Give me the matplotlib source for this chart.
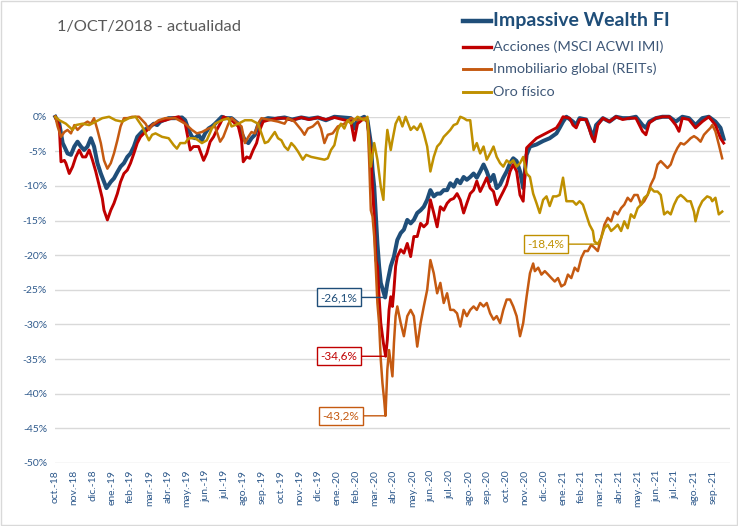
import numpy as np
import matplotlib.pyplot as plt
from matplotlib.lines import Line2D
from matplotlib.patches import Rectangle

plt.rcParams['font.family'] = ['Lato', 'DejaVu Sans']

# x = meses desde 1/oct/2018, y = caida desde maximos (%)
impassive = [
    (0, 0), (0.21, -1.0), (0.39, -3.8), (0.48, -4.3), (0.65, -5.3), (0.83, -5.5), (1.01, -4.3), (1.18, -3.6),
    (1.36, -4.3), (1.53, -4.8), (1.71, -4.3), (1.89, -3.1), (2.06, -4.3), (2.24, -6.7), (2.42, -8.2), (2.59, -9.4),
    (2.72, -10.3), (2.95, -9.4), (3.12, -8.9), (3.30, -8.0), (3.47, -7.2), (3.65, -6.7), (3.83, -5.8), (4.00, -5.3),
    (4.18, -4.3), (4.36, -2.9), (4.53, -2.4), (4.71, -1.9), (4.89, -1.7), (5.06, -1.4), (5.24, -1.0), (5.42, -1.2),
    (5.59, -0.7), (5.77, -0.5), (6.03, -0.2), (6.38, -0.2), (6.74, -0.1), (6.91, -0.5), (7.09, -1.9), (7.27, -2.9),
    (7.44, -3.1), (7.62, -2.6), (7.80, -3.4), (7.97, -2.4), (8.15, -1.7), (8.33, -1.4), (8.50, -1.0), (8.68, -0.5),
    (8.86, 0), (9.03, -0.2), (9.38, -0.2), (9.74, -1.0), (9.91, -2.4), (10.09, -3.4), (10.27, -3.8), (10.44, -3.1),
    (10.62, -2.6), (10.79, -1.2), (10.97, -0.5), (11.32, -0.2), (11.68, -0.3), (12.20, -0.1), (12.60, -0.4),
    (13.09, -0.1), (13.50, -0.3), (13.97, -0.1), (14.40, -0.5), (14.85, 0), (15.73, -0.2), (15.91, -1.7),
    (16.08, -0.5), (16.44, 0), (16.61, -0.5), (16.79, -3.8), (16.88, -7.7), (16.97, -10.1), (17.06, -14.4),
    (17.14, -18.3), (17.23, -21.6), (17.32, -24.0), (17.55, -26.1), (17.67, -24.0), (17.85, -21.6), (18.02, -20.2),
    (18.20, -17.8), (18.38, -16.8), (18.55, -16.3), (18.73, -14.9), (18.91, -15.4), (19.08, -14.9), (19.26, -13.9),
    (19.44, -13.5), (19.61, -13.0), (19.79, -12.0), (19.96, -10.6), (20.14, -11.5), (20.32, -11.1), (20.49, -11.1),
    (20.67, -10.6), (20.85, -10.6), (21.02, -9.6), (21.20, -10.1), (21.38, -9.1), (21.55, -9.6), (21.73, -8.7),
    (21.90, -9.1), (22.08, -8.7), (22.26, -8.2), (22.43, -8.8), (22.61, -7.9), (22.79, -6.9), (22.96, -7.9),
    (23.14, -9.3), (23.32, -8.4), (23.49, -10.3), (23.67, -9.8), (23.84, -8.8), (24.02, -7.9), (24.20, -6.7),
    (24.37, -6.0), (24.55, -6.4), (24.73, -7.9), (24.90, -10.3), (24.99, -7.9), (25.08, -5.5), (25.26, -4.3),
    (25.61, -4.0), (25.96, -3.5), (26.31, -3.1), (26.67, -2.4), (26.84, -1.6), (27.02, -0.7), (27.20, 0),
    (27.55, -0.7), (27.72, -1.2), (27.90, -0.2), (28.25, -0.4), (28.43, -1.6), (28.61, -3.1), (28.78, -1.2),
    (29.14, -0.2), (29.49, -0.7), (29.84, 0), (30.19, -0.2), (30.55, -0.2), (30.90, 0), (31.25, -1.2),
    (31.43, -1.6), (31.61, -0.7), (31.96, -0.2), (32.31, 0), (32.67, 0), (33.02, -0.7), (33.37, 0), (33.72, -0.2),
    (34.07, -1.2), (34.43, -0.2), (34.78, 0), (35.13, -0.7), (35.40, -1.6), (35.57, -3.2),
]

acciones = [
    (0, 0), (0.21, -1.4), (0.30, -6.5), (0.48, -6.3), (0.56, -6.7), (0.74, -8.2), (0.92, -7.2), (1.09, -5.8),
    (1.27, -4.8), (1.45, -5.8), (1.62, -5.8), (1.80, -4.8), (1.98, -6.3), (2.15, -7.9), (2.33, -9.9), (2.50, -11.8),
    (2.59, -13.5), (2.77, -14.9), (2.95, -13.5), (3.12, -12.5), (3.30, -11.1), (3.47, -9.4), (3.65, -8.2),
    (3.83, -7.7), (4.00, -6.7), (4.18, -5.3), (4.36, -3.8), (4.53, -2.9), (4.71, -2.4), (4.89, -1.9), (5.15, -1.2),
    (5.50, -0.7), (5.86, -0.5), (6.21, -0.2), (6.56, 0), (6.91, -1.0), (7.18, -4.8), (7.35, -4.3), (7.62, -4.3),
    (7.89, -6.3), (8.06, -5.3), (8.24, -3.6), (8.42, -2.9), (8.59, -1.9), (8.77, -1.0), (8.95, 0), (9.38, -0.5),
    (9.74, -1.4), (9.91, -3.4), (10.00, -6.5), (10.18, -5.8), (10.35, -6.0), (10.53, -4.8), (10.71, -3.8),
    (10.88, -1.9), (11.06, -0.7), (11.32, -0.5), (11.85, -0.2), (12.20, -0.2), (12.60, -0.5), (13.09, -0.1),
    (13.50, -0.4), (13.97, -0.1), (14.40, -0.4), (14.85, -0.1), (15.73, -0.7), (15.91, -3.4), (16.08, -1.0),
    (16.44, -0.2), (16.61, -0.7), (16.79, -5.5), (16.88, -10.3), (16.97, -14.4), (17.06, -20.7), (17.14, -21.6),
    (17.23, -26.0), (17.32, -29.8), (17.46, -32.7), (17.58, -34.6), (17.67, -32.2), (17.76, -27.9), (17.85, -26.0),
    (17.94, -27.4), (18.02, -25.0), (18.11, -21.6), (18.20, -20.2), (18.38, -19.2), (18.55, -19.7), (18.73, -18.3),
    (18.91, -20.2), (19.08, -17.3), (19.26, -17.3), (19.44, -15.4), (19.61, -15.9), (19.79, -15.4), (19.96, -12.0),
    (20.14, -13.9), (20.32, -15.9), (20.49, -13.0), (20.67, -13.5), (20.85, -12.5), (21.02, -12.0), (21.20, -11.8),
    (21.38, -11.1), (21.55, -12.0), (21.73, -13.9), (21.90, -12.5), (22.08, -11.1), (22.26, -10.6), (22.43, -9.3),
    (22.61, -10.8), (22.79, -9.8), (22.96, -8.8), (23.14, -10.3), (23.32, -10.8), (23.49, -12.7), (23.67, -11.7),
    (23.84, -10.8), (24.02, -9.8), (24.20, -7.9), (24.37, -6.9), (24.55, -7.9), (24.73, -11.3), (24.90, -12.2),
    (25.08, -4.5), (25.26, -4.0), (25.61, -3.1), (25.96, -2.6), (26.31, -2.1), (26.67, -1.6), (26.84, -0.9),
    (27.02, 0), (27.37, -0.2), (27.55, -1.2), (27.72, -1.6), (27.90, -0.4), (28.25, -0.4), (28.52, -2.6),
    (28.69, -3.6), (28.87, -1.2), (29.14, -0.2), (29.49, -0.7), (29.84, 0), (30.19, -0.4), (30.55, -0.2),
    (30.90, -0.2), (31.25, -2.1), (31.43, -2.6), (31.61, -0.9), (31.96, -0.2), (32.31, 0), (32.67, 0),
    (33.02, -1.2), (33.19, -2.1), (33.37, -0.2), (33.72, -0.4), (34.07, -1.6), (34.43, -0.7), (34.78, 0),
    (35.13, -1.2), (35.40, -3.1), (35.57, -3.8),
]

reits = [
    (0, 0), (0.12, -1.4), (0.30, -2.9), (0.48, -2.2), (0.65, -1.9), (0.83, -2.4), (1.01, -1.2), (1.18, -1.9),
    (1.36, -1.4), (1.53, -1.0), (1.71, -0.7), (1.89, -1.0), (2.06, -0.2), (2.24, -1.9), (2.42, -3.8), (2.59, -6.3),
    (2.77, -7.5), (2.95, -6.7), (3.12, -5.3), (3.30, -3.4), (3.47, -1.4), (3.65, -0.2), (3.83, -0.2), (4.09, 0),
    (4.45, 0), (4.80, -1.0), (4.98, -1.9), (5.15, -1.2), (5.50, -0.5), (5.86, -0.2), (6.38, -0.2), (6.91, -1.0),
    (7.27, -1.9), (7.53, -2.4), (7.80, -2.2), (8.15, -1.7), (8.50, -1.4), (8.77, -3.6), (8.94, -2.9), (9.21, -1.0),
    (9.38, -0.2), (9.74, -1.0), (9.91, -1.4), (10.09, -3.8), (10.27, -2.9), (10.44, -2.2), (10.62, -2.4),
    (10.79, -1.0), (10.97, -0.2), (11.50, -0.5), (11.85, -0.7), (12.20, -1.0), (12.38, -0.2), (12.73, -0.7),
    (13.09, -1.9), (13.26, -2.6), (13.44, -1.7), (13.70, -1.4), (13.97, -0.7), (14.14, -1.7), (14.32, -3.8),
    (14.50, -2.6), (14.76, -2.4), (15.03, -1.4), (15.38, -1.0), (15.73, -0.2), (16.08, -0.5), (16.44, -0.2),
    (16.61, -0.5), (16.70, -6.2), (16.79, -13.5), (16.88, -14.4), (16.97, -17.3), (17.06, -22.1), (17.14, -26.9),
    (17.23, -29.8), (17.32, -35.1), (17.41, -38.5), (17.50, -40.9), (17.57, -43.2), (17.67, -36.5), (17.76, -33.7),
    (17.85, -35.6), (17.94, -37.5), (18.02, -32.7), (18.11, -28.8), (18.20, -27.4), (18.38, -29.8), (18.55, -31.7),
    (18.73, -28.8), (18.91, -27.9), (19.08, -28.8), (19.26, -33.2), (19.44, -29.8), (19.61, -27.4), (19.79, -25.0),
    (19.96, -20.7), (20.14, -22.6), (20.32, -25.5), (20.49, -24.0), (20.67, -26.9), (20.85, -25.5), (21.02, -27.9),
    (21.20, -27.9), (21.38, -28.4), (21.55, -30.3), (21.73, -27.9), (21.90, -28.8), (22.08, -27.9), (22.26, -27.4),
    (22.43, -27.9), (22.61, -26.9), (22.79, -27.4), (22.96, -26.9), (23.14, -28.4), (23.32, -29.3), (23.49, -28.8),
    (23.67, -29.8), (23.84, -27.9), (24.02, -26.4), (24.20, -26.4), (24.37, -27.4), (24.55, -28.8), (24.73, -31.7),
    (24.90, -29.8), (25.08, -26.0), (25.26, -22.6), (25.43, -21.2), (25.52, -22.3), (25.70, -21.8), (25.87, -22.8),
    (26.05, -22.3), (26.23, -22.8), (26.40, -23.3), (26.58, -23.8), (26.75, -23.3), (26.93, -24.5), (27.11, -24.2),
    (27.28, -22.8), (27.46, -23.3), (27.64, -21.8), (27.81, -22.3), (27.99, -20.4), (28.17, -19.4), (28.34, -19.4),
    (28.52, -18.5), (28.69, -18.9), (28.87, -19.4), (29.05, -17.5), (29.22, -15.6), (29.40, -14.6), (29.58, -15.1),
    (29.75, -13.7), (29.93, -14.1), (30.11, -13.2), (30.28, -12.7), (30.46, -11.7), (30.63, -12.2), (30.81, -11.3),
    (30.99, -11.3), (31.17, -12.7), (31.34, -12.2), (31.52, -11.3), (31.69, -9.8), (31.87, -8.8), (32.05, -6.9),
    (32.22, -6.4), (32.40, -6.9), (32.58, -7.4), (32.75, -6.9), (32.93, -5.5), (33.11, -4.5), (33.28, -3.8),
    (33.46, -4.0), (33.63, -3.6), (33.81, -3.1), (33.99, -2.8), (34.16, -3.1), (34.34, -3.6), (34.52, -2.6),
    (34.69, -2.1), (34.87, -1.6), (34.96, -1.2), (35.13, -2.1), (35.31, -4.0), (35.49, -6.0),
]

oro = [
    (0, 0), (0.21, -0.5), (0.56, -1.0), (0.92, -1.9), (1.09, -1.2), (1.45, -1.0), (1.80, -1.2), (2.15, -0.7),
    (2.50, -0.2), (2.86, 0), (3.21, -0.5), (3.56, -0.7), (3.92, -0.2), (4.27, 0), (4.62, -1.4), (4.80, -2.4),
    (4.98, -3.4), (5.15, -2.6), (5.33, -2.4), (5.68, -2.9), (6.03, -3.1), (6.30, -4.1), (6.47, -4.6), (6.65, -3.8),
    (6.91, -3.8), (7.09, -3.1), (7.44, -3.1), (7.80, -3.8), (8.06, -3.4), (8.33, -1.7), (8.50, -1.0), (8.86, -0.5),
    (9.21, -0.2), (9.38, -1.4), (9.74, -1.0), (10.09, -0.5), (10.44, -0.5), (10.79, -1.0), (10.97, -2.4),
    (11.15, -3.8), (11.32, -3.6), (11.50, -2.9), (11.68, -2.2), (11.85, -3.1), (12.03, -3.4), (12.20, -4.3),
    (12.38, -4.8), (12.56, -3.8), (12.73, -4.3), (12.91, -5.0), (13.17, -6.2), (13.35, -5.5), (13.62, -5.8),
    (13.97, -6.0), (14.32, -6.2), (14.50, -6.0), (14.67, -4.8), (14.85, -4.1), (15.03, -1.9), (15.20, -1.0),
    (15.38, -1.7), (15.56, -0.5), (15.73, -1.0), (16.08, 0), (16.44, -0.5), (16.61, 0), (16.79, -7.2),
    (16.97, -3.8), (17.14, -6.2), (17.32, -10.1), (17.46, -12.0), (17.58, -4.8), (17.67, -1.9), (17.85, -4.8),
    (17.94, -3.4), (18.11, -1.0), (18.29, 0), (18.47, -1.4), (18.64, 0), (18.91, -1.9), (19.08, -1.4),
    (19.26, -1.9), (19.44, -1.0), (19.61, -2.4), (19.79, -4.3), (19.96, -7.9), (20.14, -5.8), (20.32, -4.3),
    (20.49, -3.8), (20.67, -2.9), (20.85, -2.4), (21.02, -1.9), (21.20, -1.2), (21.38, -1.0), (21.55, 0),
    (21.73, -0.2), (21.90, -0.5), (22.08, -0.5), (22.26, -4.8), (22.43, -3.8), (22.61, -5.3), (22.79, -4.3),
    (22.96, -6.2), (23.14, -5.3), (23.32, -4.3), (23.49, -5.8), (23.67, -6.7), (23.84, -7.2), (24.02, -6.3),
    (24.20, -6.7), (24.37, -6.3), (24.55, -7.2), (24.73, -6.7), (24.90, -5.8), (25.08, -8.2), (25.26, -8.7),
    (25.43, -11.1), (25.61, -12.5), (25.78, -13.9), (25.96, -12.0), (26.14, -11.5), (26.31, -12.9), (26.49, -11.5),
    (26.67, -11.5), (26.84, -11.3), (27.02, -8.8), (27.20, -12.2), (27.37, -12.2), (27.55, -12.2), (27.72, -12.7),
    (27.90, -12.2), (28.08, -12.7), (28.25, -14.1), (28.43, -15.6), (28.61, -16.5), (28.69, -18.0), (28.87, -18.4),
    (29.05, -17.5), (29.22, -16.1), (29.40, -15.6), (29.58, -16.5), (29.75, -16.1), (29.93, -15.6), (30.11, -16.5),
    (30.28, -15.1), (30.46, -16.1), (30.63, -14.1), (30.81, -14.6), (30.99, -13.2), (31.17, -12.7), (31.34, -11.7),
    (31.52, -11.3), (31.69, -10.3), (31.87, -10.8), (32.05, -10.8), (32.22, -11.3), (32.40, -14.1), (32.58, -13.7),
    (32.75, -14.1), (32.93, -12.7), (33.11, -11.7), (33.28, -11.3), (33.46, -11.7), (33.63, -12.2), (33.81, -12.2),
    (33.99, -13.7), (34.07, -15.1), (34.25, -13.2), (34.43, -12.2), (34.69, -11.5), (34.87, -11.7), (34.96, -12.2),
    (35.13, -11.7), (35.31, -14.1), (35.49, -13.7),
]

meses = ['oct.-18', 'nov.-18', 'dic.-18', 'ene.-19', 'feb.-19', 'mar.-19', 'abr.-19', 'may.-19', 'jun.-19',
         'jul.-19', 'ago.-19', 'sep.-19', 'oct.-19', 'nov.-19', 'dic.-19', 'ene.-20', 'feb.-20', 'mar.-20',
         'abr.-20', 'may.-20', 'jun.-20', 'jul.-20', 'ago.-20', 'sep.-20', 'oct.-20', 'nov.-20', 'dic.-20',
         'ene.-21', 'feb.-21', 'mar.-21', 'abr.-21', 'may.-21', 'jun.-21', 'jul.-21', 'ago.-21', 'sep.-21']

series = [
    ('Impassive Wealth FI', impassive, '#1F4E79', 2.9),
    ('Acciones (MSCI ACWI IMI)', acciones, '#C00000', 2.1),
    ('Inmobiliario global (REITs)', reits, '#C55A11', 1.8),
    ('Oro físico', oro, '#BF9000', 1.8),
]
# texto del minimo de cada serie y posicion x de su recuadro
etiquetas = [
    (impassive, '#1F4E79', '-26,1%', 15.1),
    (acciones, '#C00000', '-34,6%', 15.1),
    (reits, '#C55A11', '-43,2%', 15.2),
    (oro, '#BF9000', '-18,4%', 26.1),
]

fig = plt.figure(figsize=(7.38, 5.26), dpi=100)
ax = fig.add_axes([0.075, 0.12, 0.914, 0.658])

for i, (name, data, color, lw) in enumerate(series):
    d = np.array(data)
    ax.plot(d[:, 0], d[:, 1], color=color, lw=lw, zorder=3 + i, clip_on=False, solid_joinstyle='round')

for data, color, txt, xt in etiquetas:
    d = np.array(data)
    k = d[:, 1].argmin()
    ax.annotate(txt, xy=(d[k, 0], d[k, 1]), xytext=(xt, d[k, 1]), color=color, fontsize=8.5,
                ha='center', va='center', zorder=10,
                bbox=dict(boxstyle='square,pad=0.3', fc='white', ec=color, lw=1),
                arrowprops=dict(arrowstyle='-', color=color, lw=1, shrinkA=0, shrinkB=0))

ax.set_xlim(0, 35.9)
ax.set_ylim(-50, 0)
yt = np.arange(0, -55, -5)
ax.set_yticks(yt)
ax.set_yticklabels([f'{v}%' for v in yt])
ax.set_xticks(np.arange(len(meses)))
ax.set_xticklabels(meses, rotation=90)
ax.tick_params(axis='both', length=0, labelsize=7.5, labelcolor='#2F5A8C')
ax.tick_params(axis='y', pad=6)
ax.tick_params(axis='x', pad=5)
ax.grid(axis='y', color='#D9D9D9', lw=1)
ax.set_axisbelow(True)
for s in ax.spines.values():
    s.set_visible(False)

fig.text(57 / 738, 1 - 27 / 526, '1/OCT/2018 - actualidad', fontsize=11.8, color='#595959', va='center')

# leyenda manual
ley_y = [20.5, 46.5, 69, 92]
for (name, data, color, lw), yy in zip(series, ley_y):
    yf = 1 - yy / 526
    fig.add_artist(Line2D([463 / 738, 491 / 738], [yf, yf], color=color, lw=lw + 0.3))
    if name.startswith('Impassive'):
        fig.text(493 / 738, yf, name, fontsize=14, fontweight='bold', color='#1F4E79', va='center')
    else:
        fig.text(493 / 738, yf, name, fontsize=10.4, color='#3F5878', va='center')

fig.add_artist(Rectangle((0.001, 0.001), 0.997, 0.997, transform=fig.transFigure,
                         fill=False, ec='#D9D9D9', lw=1))

fig.savefig('out.png', dpi=100)
